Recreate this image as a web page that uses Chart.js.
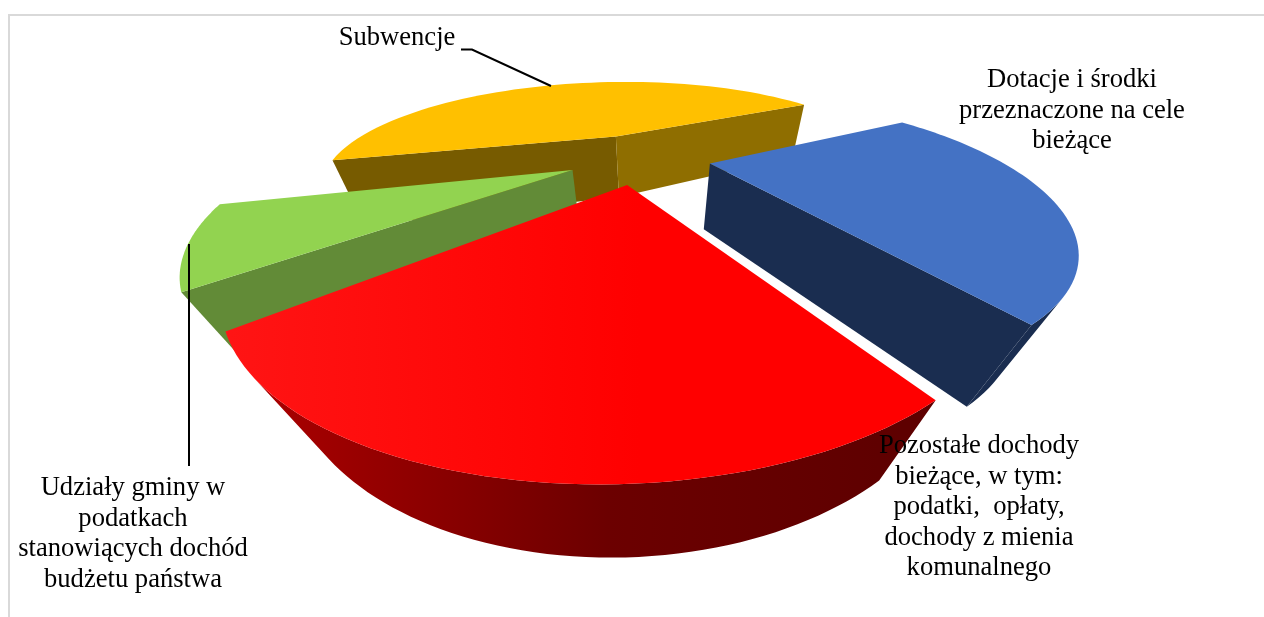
<!DOCTYPE html>
<html lang="pl">
<head>
<meta charset="utf-8">
<title>Struktura dochodów</title>
<script src="https://cdn.jsdelivr.net/npm/chart.js@4"></script>
<style>
    html, body { margin: 0; padding: 0; background: #fff; overflow: hidden; }
    #wrap { position: relative; width: 1264px; height: 617px; }
    #frame { position: absolute; left: 8px; top: 14px; width: 1256px; height: 603px; border-left: 2px solid #d9d9d9; border-top: 2px solid #d9d9d9; box-sizing: border-box; }
    canvas { position: absolute; left: 0; top: 0; }
    .label { position: absolute; font-family: "Liberation Serif", serif; font-size: 26.6px; line-height: 30.6px; color: #000; text-align: center; white-space: pre; transform: translateX(-50%); }
</style>
</head>
<body>
<div id="wrap">
    <div id="frame"></div>
    <canvas id="pie" width="1264" height="617"></canvas>
</div>
<script>
// shares in percent, clockwise starting from the blue slice
const sliceLabels = [
    ['Dotacje i środki', 'przeznaczone na cele', 'bieżące'],
    ['Pozostałe dochody', 'bieżące, w tym:', 'podatki,  opłaty,', 'dochody z mienia', 'komunalnego'],
    ['Udziały gminy w', 'podatkach', 'stanowiących dochód', 'budżetu państwa'],
    ['Subwencje']
];
const sliceValues = [24.5, 21.5, 7.9, 46.1];
const topColors = ['#4472C4', '#FF0000', '#92D350', '#FFC000'];
const startWallColors = ['#1A2D50', '#600000', '#628B37', '#775B00'];
const endWallColors = ['#1A2D50', '#600000', '#628B37', '#8F6E00'];
const drawOrder = [3, 2, 0, 1];

// where each label block sits: centre x, top y
const labelX = [1072, 979, 133, 397];
const labelY = [63, 429, 471, 21];

// perspective of the pie plane, fitted on the picture
const horizonY = -40, planeX = 648, vanishX = 650, bottomVanishY = 807;
const planeScaleX = 1445, planeScaleY = 1520, planeDX = -45, planeDY = -3038, planeK = 598.5;
const depthK = 5.6e-4;

function project(nx, ny) {
    const g = -(planeDY + planeScaleY * ny) / planeK;
    return { x: planeX + (planeDX + planeScaleX * nx) / g, y: horizonY + 1000 / g };
}

function lower(p) {
    const cs = depthK * (p.y - horizonY);
    const t = cs / (1 + cs);
    return { x: p.x + t * (vanishX - p.x), y: p.y + t * (bottomVanishY - p.y) };
}

function quadArea(a, b, c, d) {
    const pts = [a, b, c, d];
    let sum = 0;
    for (let i = 0; i < 4; i++) {
        const p = pts[i], q = pts[(i + 1) % 4];
        sum += p.x * q.y - q.x * p.y;
    }
    return sum / 2;
}

function fillWall(ctx, edges, style) {
    ctx.beginPath();
    let any = false;
    edges.forEach(([p, q]) => {
        const pb = lower(p), qb = lower(q);
        if (quadArea(p, q, qb, pb) < 0) {
            ctx.moveTo(p.x, p.y);
            ctx.lineTo(q.x, q.y);
            ctx.lineTo(qb.x, qb.y);
            ctx.lineTo(pb.x, pb.y);
            ctx.closePath();
            any = true;
        }
    });
    if (any) {
        ctx.fillStyle = style;
        ctx.fill();
    }
}

function drawSlice(ctx, arc, index) {
    const r = arc.outerRadius;
    const mid = (arc.startAngle + arc.endAngle) / 2;
    const off = arc.options.offset / r;
    const ox = off * Math.cos(mid), oy = off * Math.sin(mid);
    const apex = project(ox, oy);
    const rim = [];
    const steps = 60;
    for (let i = 0; i <= steps; i++) {
        const a = arc.startAngle + (arc.endAngle - arc.startAngle) * i / steps;
        rim.push(project(ox + Math.cos(a), oy + Math.sin(a)));
    }
    const outerEdges = [];
    for (let i = 0; i < steps; i++) outerEdges.push([rim[i], rim[i + 1]]);

    let outerStyle = startWallColors[index];
    let topStyle = topColors[index];
    if (index === 1) {
        // the big red slice is shaded from left to right
        const wall = ctx.createLinearGradient(250, 0, 900, 0);
        wall.addColorStop(0, '#AC0000');
        wall.addColorStop(0.55, '#6C0000');
        wall.addColorStop(1, '#5E0000');
        outerStyle = wall;
        const top = ctx.createLinearGradient(230, 0, 640, 0);
        top.addColorStop(0, '#FF1414');
        top.addColorStop(1, '#FF0000');
        topStyle = top;
    }

    fillWall(ctx, [[apex, rim[0]]], startWallColors[index]);
    fillWall(ctx, [[rim[steps], apex]], endWallColors[index]);
    fillWall(ctx, outerEdges, outerStyle);

    ctx.beginPath();
    ctx.moveTo(apex.x, apex.y);
    rim.forEach(p => ctx.lineTo(p.x, p.y));
    ctx.closePath();
    ctx.fillStyle = topStyle;
    ctx.fill();
}

const pie3d = {
    id: 'pie3d',
    beforeDatasetDraw() {
        return false;
    },
    afterDatasetsDraw(chart) {
        const ctx = chart.ctx;
        const arcs = chart.getDatasetMeta(0).data;
        ctx.save();
        drawOrder.forEach(i => drawSlice(ctx, arcs[i], i));

        // leader lines
        ctx.strokeStyle = '#000';
        ctx.lineWidth = 2;
        ctx.beginPath();
        ctx.moveTo(461, 49.5);
        ctx.lineTo(472, 49.5);
        ctx.lineTo(551, 86);
        ctx.moveTo(189, 244);
        ctx.lineTo(189, 466);
        ctx.stroke();
        ctx.restore();
    }
};

new Chart(document.getElementById('pie'), {
    type: 'pie',
    data: {
        labels: sliceLabels.map(l => l.join(' ')),
        datasets: [{
            data: sliceValues,
            backgroundColor: topColors,
            borderWidth: 0,
            offset: 50
        }]
    },
    options: {
        responsive: false,
        animation: false,
        rotation: 60.7,
        radius: 200,
        plugins: { legend: { display: false }, tooltip: { enabled: false } }
    },
    plugins: [pie3d]
});

const wrap = document.getElementById('wrap');
sliceLabels.forEach((lines, i) => {
    const el = document.createElement('div');
    el.className = 'label';
    el.style.left = labelX[i] + 'px';
    el.style.top = labelY[i] + 'px';
    el.textContent = lines.join('\n');
    wrap.appendChild(el);
});
</script>
</body>
</html>
